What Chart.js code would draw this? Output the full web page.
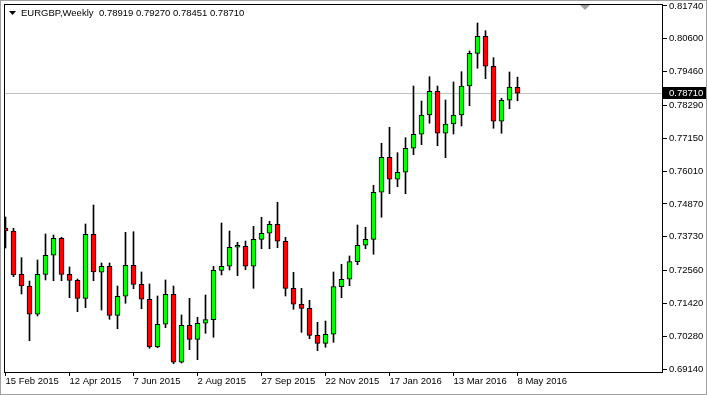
<!DOCTYPE html>
<html>
<head>
<meta charset="utf-8">
<script src="https://cdn.jsdelivr.net/npm/chart.js@4.4.1/dist/chart.umd.min.js"></script>
<style>
  html, body { margin: 0; padding: 0; background: #fff; }
  #wrap { width: 707px; height: 395px; }
</style>
</head>
<body>
<div id="wrap"><canvas id="chart" width="707" height="395"></canvas></div>
<script>
const symbol = 'EURGBP,Weekly';
const lastBar = ['0.78919', '0.79270', '0.78451', '0.78710'];
const lastPrice = 0.78710;

// one tick label every 8 weeks, first week = index 0
const tickLabels = ['15 Feb 2015', '12 Apr 2015', '7 Jun 2015', '2 Aug 2015', '27 Sep 2015',
  '22 Nov 2015', '17 Jan 2016', '13 Mar 2016', '8 May 2016'];
const tickIndex = [0, 8, 16, 24, 32, 40, 48, 56, 64];
const priceTicks = [0.69140, 0.70280, 0.71420, 0.72560, 0.73730, 0.74870,
  0.76010, 0.77150, 0.78290, 0.79460, 0.80600, 0.81740];

// weekly OHLC, 15 Feb 2015 .. 8 May 2016
const opens = [0.74034, 0.73930, 0.72427, 0.72021, 0.71039, 0.72427, 0.73087, 0.73677, 0.72427, 0.72219,
  0.71594, 0.73816, 0.72497, 0.72705, 0.71004, 0.71664, 0.72740, 0.72080, 0.71560, 0.69904,
  0.70692, 0.71733, 0.69373, 0.70657, 0.70171, 0.70727, 0.70852, 0.72566, 0.72705, 0.73365,
  0.73399, 0.72705, 0.73642, 0.73851, 0.74163, 0.73573, 0.71941, 0.71386, 0.71247, 0.70310,
  0.70032, 0.70345, 0.71997, 0.72254, 0.72865, 0.73434, 0.73642, 0.75274, 0.76489, 0.75725,
  0.75968, 0.76801, 0.77287, 0.77957, 0.78779, 0.77322, 0.77644, 0.77957, 0.78963, 0.80098,
  0.80688, 0.79647, 0.77738, 0.78467, 0.78919];
const highs = [0.74416, 0.74024, 0.73004, 0.72195, 0.72924, 0.73826, 0.73791, 0.73712, 0.72681, 0.72264,
  0.74173, 0.74833, 0.72820, 0.72820, 0.72021, 0.73885, 0.73906, 0.72507, 0.72091, 0.71674,
  0.72230, 0.72021, 0.71015, 0.71594, 0.70935, 0.71709, 0.72705, 0.74208, 0.73930, 0.73538,
  0.73583, 0.74093, 0.74406, 0.74267, 0.74927, 0.73712, 0.72497, 0.71941, 0.71525, 0.70761,
  0.70806, 0.72507, 0.72774, 0.73063, 0.74139, 0.74059, 0.75517, 0.76974, 0.77530, 0.76648,
  0.77169, 0.78963, 0.78443, 0.79286, 0.78963, 0.78477, 0.79102, 0.79460, 0.80178, 0.81150,
  0.80883, 0.79946, 0.78536, 0.79449, 0.79270];
const lows = [0.73340, 0.72344, 0.71744, 0.70123, 0.70980, 0.72230, 0.72205, 0.72205, 0.71615, 0.71129,
  0.71268, 0.72205, 0.71188, 0.70865, 0.70539, 0.71421, 0.71928, 0.71233, 0.69859, 0.69880,
  0.70574, 0.69324, 0.69349, 0.69810, 0.69463, 0.70380, 0.70241, 0.72403, 0.72577, 0.72379,
  0.72587, 0.71941, 0.73316, 0.73316, 0.73351, 0.71674, 0.71213, 0.70414, 0.70192, 0.69776,
  0.69894, 0.70067, 0.71615, 0.72032, 0.72761, 0.73316, 0.73122, 0.74406, 0.75225, 0.75468,
  0.75225, 0.76579, 0.76926, 0.77669, 0.76891, 0.76475, 0.77297, 0.77575, 0.78279, 0.79578,
  0.79217, 0.77495, 0.77322, 0.78175, 0.78451];
const closes = [0.73930, 0.72403, 0.72021, 0.71039, 0.72427, 0.73087, 0.73677, 0.72427, 0.72219, 0.71594,
  0.73816, 0.72507, 0.72705, 0.71004, 0.71664, 0.72740, 0.72080, 0.71560, 0.69904, 0.70692,
  0.71733, 0.69373, 0.70657, 0.70171, 0.70727, 0.70852, 0.72566, 0.72705, 0.73365, 0.73385,
  0.72705, 0.73642, 0.73851, 0.74163, 0.73573, 0.71941, 0.71386, 0.71247, 0.70310, 0.70032,
  0.70345, 0.71997, 0.72254, 0.72865, 0.73434, 0.73642, 0.75274, 0.76489, 0.75725, 0.75968,
  0.76801, 0.77287, 0.77957, 0.78779, 0.77322, 0.77644, 0.77957, 0.78963, 0.80098, 0.80688,
  0.79647, 0.77738, 0.78467, 0.78929, 0.78710];

const FONT = "'Liberation Sans', Arial, sans-serif";
const FSIZE = 9.5;

const idx = opens.map((_, i) => i);
const bodies = idx.map(i => ({ x: i, y: [opens[i], closes[i]] }));
const wicks = idx.map(i => ({ x: i, y: [lows[i], highs[i]] }));
const bodyColors = idx.map(i => closes[i] >= opens[i] ? '#00ff00' : '#ff0000');

// border, price line, header text, price marker
const mt4Frame = {
  id: 'mt4Frame',
  beforeDatasetsDraw(chart) {
    const { ctx, chartArea: a, scales } = chart;
    const y = Math.round(scales.y.getPixelForValue(lastPrice)) + 0.5;
    ctx.save();
    ctx.strokeStyle = '#c0c0c0';
    ctx.lineWidth = 1;
    ctx.beginPath();
    ctx.moveTo(a.left, y);
    ctx.lineTo(a.right, y);
    ctx.stroke();
    ctx.restore();
  },
  afterDraw(chart) {
    const { ctx, chartArea: a, scales } = chart;
    ctx.save();
    ctx.strokeStyle = '#000';
    ctx.lineWidth = 1;
    ctx.strokeRect(a.left + 0.5, a.top + 0.5, a.right - a.left - 1, a.bottom - a.top);

    // window edge
    ctx.strokeStyle = '#a0a0a0';
    ctx.strokeRect(0.5, 0.5, chart.width - 1, chart.height - 1);

    // header
    ctx.fillStyle = '#000';
    ctx.beginPath();
    ctx.moveTo(9, 11);
    ctx.lineTo(16, 11);
    ctx.lineTo(12.5, 15);
    ctx.closePath();
    ctx.fill();
    ctx.font = FSIZE + 'px ' + FONT;
    ctx.textBaseline = 'middle';
    ctx.fillText(symbol, 21, 13);
    ctx.fillText(lastBar.join(' '), 99, 13);

    // shift marker
    ctx.fillStyle = '#a0a0a0';
    ctx.beginPath();
    ctx.moveTo(580, a.top + 1);
    ctx.lineTo(590, a.top + 1);
    ctx.lineTo(585, a.top + 6);
    ctx.closePath();
    ctx.fill();

    // current price label
    const y = Math.round(scales.y.getPixelForValue(lastPrice));
    ctx.fillStyle = '#000';
    ctx.fillRect(a.right, y - 6, 43, 12);
    ctx.fillStyle = '#fff';
    ctx.fillText(lastPrice.toFixed(5), a.right + 6, y + 0.5);
    ctx.restore();
  }
};

new Chart(document.getElementById('chart'), {
  type: 'bar',
  data: {
    datasets: [
      {
        label: 'body',
        data: bodies,
        backgroundColor: bodyColors,
        borderColor: '#000',
        borderWidth: 1,
        borderSkipped: false,
        barThickness: 5,
        minBarLength: 2,
        grouped: false,
        order: 0
      },
      {
        label: 'wick',
        data: wicks,
        backgroundColor: '#000',
        borderWidth: 0,
        barThickness: 1,
        grouped: false,
        order: 1
      }
    ]
  },
  options: {
    responsive: false,
    animation: false,
    layout: { padding: { left: 4, top: 4, right: 0, bottom: 0 } },
    plugins: { legend: { display: false }, tooltip: { enabled: false } },
    scales: {
      x: {
        type: 'linear',
        offset: false,
        min: -0.1875,
        max: 82.1875,
        afterFit: s => { s.height = 23; s.paddingLeft = 0; s.paddingRight = 0; },
        afterBuildTicks: s => { s.ticks = tickIndex.map(v => ({ value: v })); },
        grid: { display: true, drawOnChartArea: false, drawTicks: true, tickLength: 4, color: '#000', offset: false },
        border: { display: false },
        ticks: {
          autoSkip: false,
          maxRotation: 0,
          align: 'start',
          padding: 0,
          color: '#000',
          font: { family: FONT, size: FSIZE },
          callback: v => tickLabels[tickIndex.indexOf(v)]
        }
      },
      y: {
        position: 'right',
        min: 0.69036,
        max: 0.81809,
        afterFit: s => { s.width = 44; s.paddingTop = 0; s.paddingBottom = 0; },
        afterBuildTicks: s => { s.ticks = priceTicks.map(v => ({ value: v })); },
        grid: { display: true, drawOnChartArea: false, drawTicks: true, tickLength: 4, color: '#000' },
        border: { display: false },
        ticks: {
          autoSkip: false,
          padding: 2,
          color: '#000',
          font: { family: FONT, size: FSIZE },
          callback: v => Number(v).toFixed(5)
        }
      }
    }
  },
  plugins: [mt4Frame]
});
</script>
</body>
</html>
